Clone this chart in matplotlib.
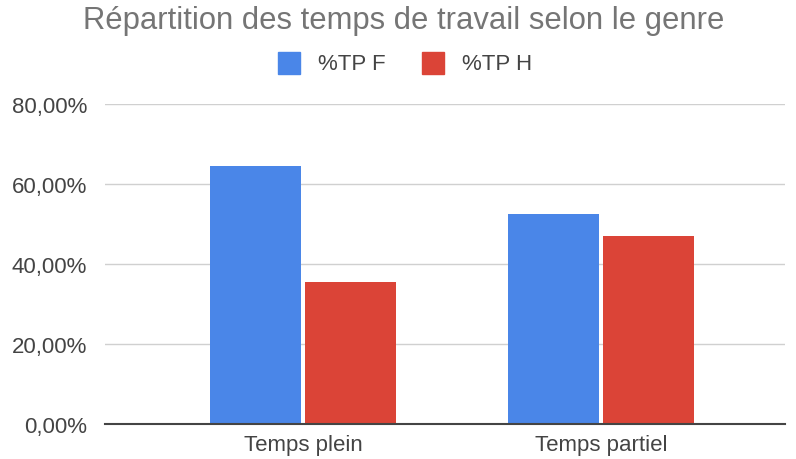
import numpy as np
import matplotlib.pyplot as plt
from matplotlib.patches import Rectangle
from matplotlib.ticker import FuncFormatter

plt.rcParams["font.family"] = ["Liberation Sans", "DejaVu Sans"]

categories = ["Temps plein", "Temps partiel"]
series_names = ["%TP F", "%TP H"]
tp_f = [64.6, 52.4]
tp_h = [35.4, 47.0]

bleu = "#4a86e8"
rouge = "#db4437"

fig = plt.figure(figsize=(7.96, 4.6), dpi=100)
ax = fig.add_axes([0.132, 0.0761, 0.854, 0.6957])

x = np.arange(len(categories))
w = 0.305
ax.bar(x - w / 2 - 0.008, tp_f, width=w, color=bleu, zorder=3)
ax.bar(x + w / 2 + 0.008, tp_h, width=w, color=rouge, zorder=3)

ax.set_xlim(-0.664, 1.617)
ax.set_ylim(0, 80)
ax.set_yticks([0, 20, 40, 60, 80])
ax.yaxis.set_major_formatter(FuncFormatter(lambda v, p: f"{v:.2f}%".replace(".", ",")))
ax.set_xticks(x)
ax.set_xticklabels(categories)
ax.tick_params(axis="both", length=0, labelsize=16, colors="#444444")
ax.tick_params(axis="x", pad=7)
ax.tick_params(axis="y", pad=13)

ax.grid(axis="y", color="#d0d0d0", linewidth=1, zorder=0)
for s in ["top", "right", "left"]:
    ax.spines[s].set_visible(False)
ax.spines["bottom"].set_color("#444444")
ax.spines["bottom"].set_linewidth(1.5)
ax.spines["bottom"].set_zorder(4)

fig.text(0.507, 0.955, "Répartition des temps de travail selon le genre",
         ha="center", va="center", fontsize=22.3, color="#757575")

# legende
for i, (nom, col) in enumerate(zip(series_names, [bleu, rouge])):
    x0 = (278 + i * 144) / 796
    fig.patches.append(Rectangle((x0, 1 - 75 / 460), 22 / 796, 22 / 460,
                                 transform=fig.transFigure, color=col))
    fig.text(x0 + 40 / 796, 1 - 64 / 460, nom, ha="left", va="center",
             fontsize=16, color="#444444")

fig.savefig("out.png", dpi=100)
